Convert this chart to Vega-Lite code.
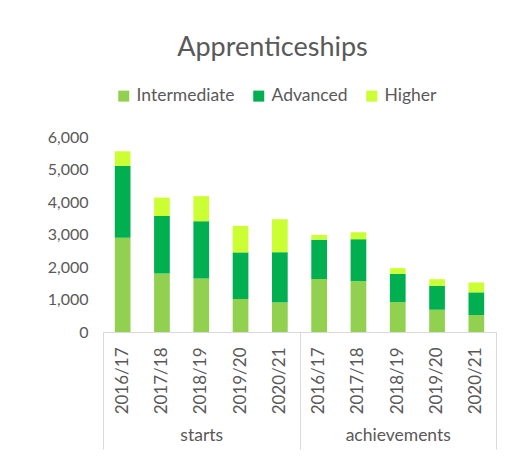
{
  "$schema": "https://vega.github.io/schema/vega-lite/v6.json",
  "width": 393,
  "height": 195,
  "padding": {"left": 47, "top": 34, "right": 31, "bottom": 5},
  "title": {"text": "Apprenticeships", "fontSize": 27, "font": "Lato", "fontWeight": "normal", "color": "#595959", "anchor": "middle", "offset": 25, "dx": -27},
  "data": {"values": [
    {"group": "starts", "year": "2016/17", "cat": "starts 2016/17", "level": "Intermediate", "rank": 1, "value": 2900},
    {"group": "starts", "year": "2016/17", "cat": "starts 2016/17", "level": "Advanced", "rank": 2, "value": 2210},
    {"group": "starts", "year": "2016/17", "cat": "starts 2016/17", "level": "Higher", "rank": 3, "value": 450},
    {"group": "starts", "year": "2017/18", "cat": "starts 2017/18", "level": "Intermediate", "rank": 1, "value": 1800},
    {"group": "starts", "year": "2017/18", "cat": "starts 2017/18", "level": "Advanced", "rank": 2, "value": 1770},
    {"group": "starts", "year": "2017/18", "cat": "starts 2017/18", "level": "Higher", "rank": 3, "value": 565},
    {"group": "starts", "year": "2018/19", "cat": "starts 2018/19", "level": "Intermediate", "rank": 1, "value": 1650},
    {"group": "starts", "year": "2018/19", "cat": "starts 2018/19", "level": "Advanced", "rank": 2, "value": 1760},
    {"group": "starts", "year": "2018/19", "cat": "starts 2018/19", "level": "Higher", "rank": 3, "value": 770},
    {"group": "starts", "year": "2019/20", "cat": "starts 2019/20", "level": "Intermediate", "rank": 1, "value": 1015},
    {"group": "starts", "year": "2019/20", "cat": "starts 2019/20", "level": "Advanced", "rank": 2, "value": 1435},
    {"group": "starts", "year": "2019/20", "cat": "starts 2019/20", "level": "Higher", "rank": 3, "value": 815},
    {"group": "starts", "year": "2020/21", "cat": "starts 2020/21", "level": "Intermediate", "rank": 1, "value": 910},
    {"group": "starts", "year": "2020/21", "cat": "starts 2020/21", "level": "Advanced", "rank": 2, "value": 1545},
    {"group": "starts", "year": "2020/21", "cat": "starts 2020/21", "level": "Higher", "rank": 3, "value": 1015},
    {"group": "achievements", "year": "2016/17", "cat": "achievements 2016/17", "level": "Intermediate", "rank": 1, "value": 1630},
    {"group": "achievements", "year": "2016/17", "cat": "achievements 2016/17", "level": "Advanced", "rank": 2, "value": 1210},
    {"group": "achievements", "year": "2016/17", "cat": "achievements 2016/17", "level": "Higher", "rank": 3, "value": 145},
    {"group": "achievements", "year": "2017/18", "cat": "achievements 2017/18", "level": "Intermediate", "rank": 1, "value": 1565},
    {"group": "achievements", "year": "2017/18", "cat": "achievements 2017/18", "level": "Advanced", "rank": 2, "value": 1290},
    {"group": "achievements", "year": "2017/18", "cat": "achievements 2017/18", "level": "Higher", "rank": 3, "value": 215},
    {"group": "achievements", "year": "2018/19", "cat": "achievements 2018/19", "level": "Intermediate", "rank": 1, "value": 920},
    {"group": "achievements", "year": "2018/19", "cat": "achievements 2018/19", "level": "Advanced", "rank": 2, "value": 870},
    {"group": "achievements", "year": "2018/19", "cat": "achievements 2018/19", "level": "Higher", "rank": 3, "value": 175},
    {"group": "achievements", "year": "2019/20", "cat": "achievements 2019/20", "level": "Intermediate", "rank": 1, "value": 685},
    {"group": "achievements", "year": "2019/20", "cat": "achievements 2019/20", "level": "Advanced", "rank": 2, "value": 735},
    {"group": "achievements", "year": "2019/20", "cat": "achievements 2019/20", "level": "Higher", "rank": 3, "value": 205},
    {"group": "achievements", "year": "2020/21", "cat": "achievements 2020/21", "level": "Intermediate", "rank": 1, "value": 520},
    {"group": "achievements", "year": "2020/21", "cat": "achievements 2020/21", "level": "Advanced", "rank": 2, "value": 700},
    {"group": "achievements", "year": "2020/21", "cat": "achievements 2020/21", "level": "Higher", "rank": 3, "value": 305}
  ]},
  "layer": [
    {
      "mark": {"type": "bar"},
      "encoding": {
        "x": {"field": "cat", "type": "nominal", "sort": null,
          "scale": {"paddingInner": 0.6, "paddingOuter": 0.3},
          "axis": {"title": null, "orient": "bottom", "labelAngle": -90, "labelExpr": "slice(datum.label, -7)", "ticks": false, "domainColor": "#d9d9d9", "labelFontSize": 17, "labelColor": "#595959", "labelPadding": 15}},
        "y": {"field": "value", "type": "quantitative", "stack": "zero",
          "scale": {"domain": [0, 6000], "nice": false},
          "axis": {"title": null, "values": [0, 1000, 2000, 3000, 4000, 5000, 6000], "format": ",.0f", "grid": false, "domain": false, "ticks": false, "labelPadding": 15, "labelFontSize": 16, "labelColor": "#595959"}},
        "color": {"field": "level", "type": "nominal", "sort": ["Intermediate", "Advanced", "Higher"],
          "scale": {"domain": ["Intermediate", "Advanced", "Higher"], "range": ["#92D050", "#00B050", "#CCFF33"]},
          "legend": {"title": null, "orient": "none", "direction": "horizontal", "legendX": 12, "legendY": -50, "symbolType": "square", "symbolSize": 121, "symbolStrokeWidth": 0, "labelFontSize": 17.5, "labelColor": "#595959", "labelOffset": 4, "columnPadding": 15}},
        "order": {"field": "rank", "type": "quantitative", "sort": "ascending"}
      }
    },
    {
      "mark": {"type": "bar", "opacity": 0},
      "encoding": {
        "x": {"field": "group", "type": "nominal", "sort": ["starts", "achievements"],
          "scale": {"paddingInner": 0, "paddingOuter": 0},
          "axis": {"title": null, "orient": "bottom", "domain": false, "tickBand": "extent", "tickSize": 117, "tickColor": "#d9d9d9", "labelPadding": -23, "labelFontSize": 17.5, "labelColor": "#595959", "labelAngle": 0}}
      }
    }
  ],
  "resolve": {"scale": {"x": "independent"}, "axis": {"x": "independent"}},
  "config": {"view": {"stroke": null}, "font": "Lato"}
}
